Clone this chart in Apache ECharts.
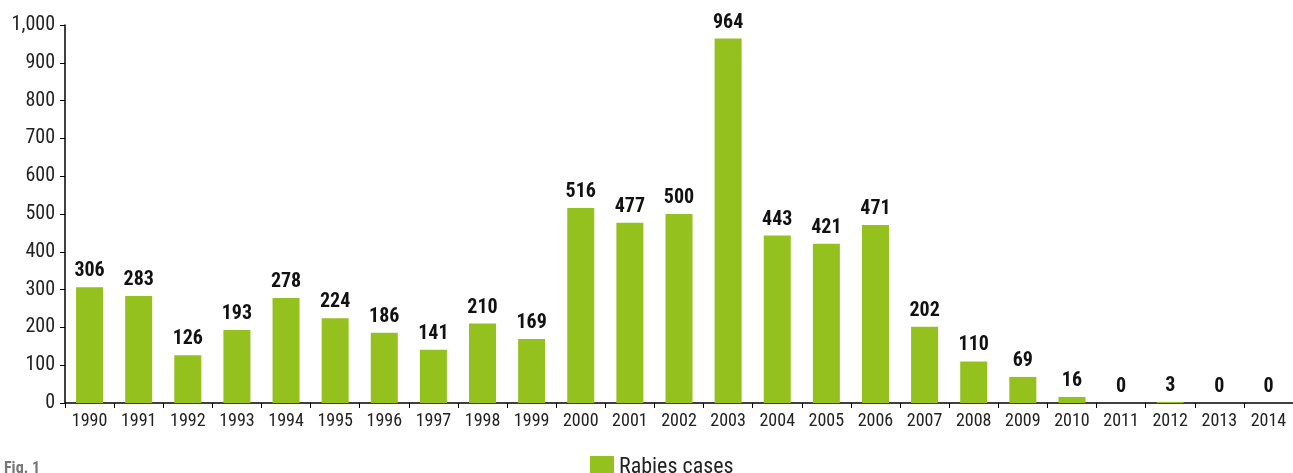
<!DOCTYPE html>
<html>
<head>
<meta charset="utf-8">
<script src="https://cdn.jsdelivr.net/npm/echarts@6/dist/echarts.min.js"></script>
<style>
  html, body { margin: 0; padding: 0; background: #fff; }
  #chart { width: 1293px; height: 473px; }
</style>
</head>
<body>
<div id="chart"></div>
<script>
const years = ['1990', '1991', '1992', '1993', '1994', '1995', '1996', '1997', '1998', '1999',
  '2000', '2001', '2002', '2003', '2004', '2005', '2006', '2007', '2008', '2009',
  '2010', '2011', '2012', '2013', '2014'];
const rabiesCases = [306, 283, 126, 193, 278, 224, 186, 141, 210, 169,
  516, 477, 500, 964, 443, 421, 471, 202, 110, 69,
  16, 0, 3, 0, 0];
const seriesName = 'Rabies cases';

const font = "'Liberation Sans Narrow', 'Roboto Condensed', 'Liberation Sans', sans-serif";
const chart = echarts.init(document.getElementById('chart'));

chart.setOption({
  animation: false,
  textStyle: { fontFamily: font },
  graphic: [{
    type: 'text',
    left: 4,
    top: 461,
    style: { text: 'Fig. 1', fill: '#777', font: 'bold 16px ' + font }
  }],
  legend: {
    left: 585,
    top: 451,
    itemWidth: 24,
    itemHeight: 22,
    itemGap: 10,
    textStyle: { fontSize: 22, color: '#222', fontFamily: font },
    data: [{ name: seriesName, icon: 'rect' }]
  },
  grid: { left: 65, top: 25, width: 1235, height: 378 },
  xAxis: {
    type: 'category',
    data: years,
    axisLine: { lineStyle: { color: '#000', width: 1.5 } },
    axisTick: { show: true, length: 5, lineStyle: { color: '#000' } },
    axisLabel: { color: '#222', fontSize: 18, margin: 9 }
  },
  yAxis: {
    type: 'value',
    min: 0,
    max: 1000,
    interval: 100,
    axisLine: { show: true, lineStyle: { color: '#000', width: 1.5 } },
    axisTick: { show: true, length: 5, lineStyle: { color: '#000' } },
    splitLine: { show: false },
    axisLabel: {
      color: '#222',
      fontSize: 20,
      margin: 10,
      formatter: v => v.toLocaleString('en-US')
    }
  },
  series: [{
    name: seriesName,
    type: 'bar',
    data: rabiesCases,
    barWidth: '55%',
    itemStyle: { color: '#95c11f' },
    label: {
      show: true,
      position: 'top',
      distance: 6,
      color: '#111',
      fontSize: 20,
      fontWeight: 'bold',
      fontFamily: font
    }
  }]
});
</script>
</body>
</html>
